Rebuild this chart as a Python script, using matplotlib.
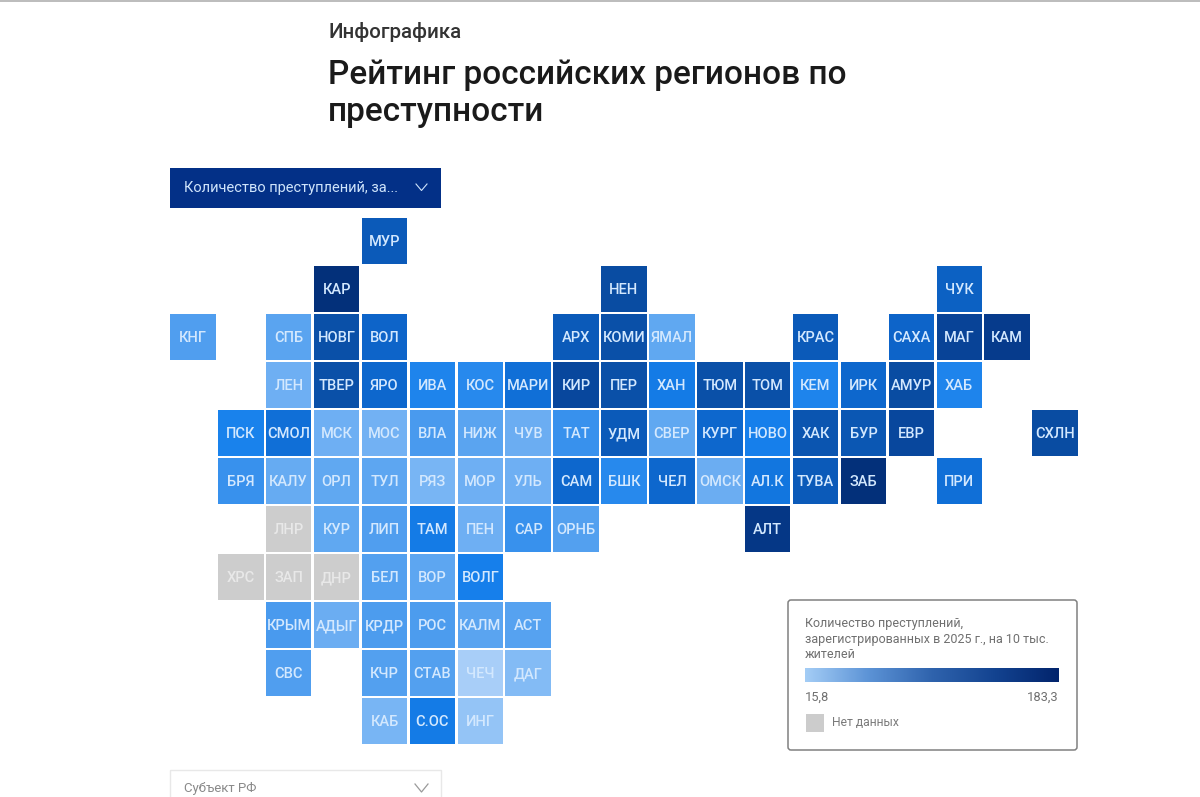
import numpy as np
import matplotlib
matplotlib.use('Agg')
import matplotlib.pyplot as plt
from matplotlib.colors import LinearSegmentedColormap, Normalize
from matplotlib.patches import Rectangle, FancyBboxPatch

plt.rcParams['font.family'] = ['Roboto', 'DejaVu Sans']

nan = float('nan')

# tile map, one list per row, '' = empty tile
row_labels = [
    ['', '', '', '', 'МУР'],
    ['', '', '', 'КАР', '', '', '', '', '', 'НЕН', '', '', '', '', '', '', 'ЧУК'],
    ['КНГ', '', 'СПБ', 'НОВГ', 'ВОЛ', '', '', '', 'АРХ', 'КОМИ', 'ЯМАЛ', '', '', 'КРАС', '', 'САХА', 'МАГ', 'КАМ'],
    ['', '', 'ЛЕН', 'ТВЕР', 'ЯРО', 'ИВА', 'КОС', 'МАРИ', 'КИР', 'ПЕР', 'ХАН', 'ТЮМ', 'ТОМ', 'КЕМ', 'ИРК', 'АМУР', 'ХАБ'],
    ['', 'ПСК', 'СМОЛ', 'МСК', 'МОС', 'ВЛА', 'НИЖ', 'ЧУВ', 'ТАТ', 'УДМ', 'СВЕР', 'КУРГ', 'НОВО', 'ХАК', 'БУР', 'ЕВР', '', '', 'СХЛН'],
    ['', 'БРЯ', 'КАЛУ', 'ОРЛ', 'ТУЛ', 'РЯЗ', 'МОР', 'УЛЬ', 'САМ', 'БШК', 'ЧЕЛ', 'ОМСК', 'АЛ.К', 'ТУВА', 'ЗАБ', '', 'ПРИ'],
    ['', '', 'ЛНР', 'КУР', 'ЛИП', 'ТАМ', 'ПЕН', 'САР', 'ОРНБ', '', '', '', 'АЛТ'],
    ['', 'ХРС', 'ЗАП', 'ДНР', 'БЕЛ', 'ВОР', 'ВОЛГ'],
    ['', '', 'КРЫМ', 'АДЫГ', 'КРДР', 'РОС', 'КАЛМ', 'АСТ'],
    ['', '', 'СВС', '', 'КЧР', 'СТАВ', 'ЧЕЧ', 'ДАГ'],
    ['', '', '', '', 'КАБ', 'С.ОС', 'ИНГ'],
]
# crimes per 10k, estimated from tile colour, nan = no data
row_values = [
    [0, 0, 0, 0, 125],
    [0, 0, 0, 175, 0, 0, 0, 0, 0, 140, 0, 0, 0, 0, 0, 0, 118],
    [68, 0, 62, 135, 115, 0, 0, 0, 125, 135, 58, 0, 0, 125, 0, 115, 150, 160],
    [0, 0, 50, 135, 112, 88, 85, 105, 145, 135, 95, 135, 135, 88, 112, 140, 88],
    [0, 90, 105, 50, 48, 72, 62, 52, 78, 125, 58, 112, 92, 130, 128, 145, 0, 0, 140],
    [0, 78, 55, 58, 60, 45, 50, 50, 112, 85, 112, 52, 100, 125, 175, 0, 105],
    [0, 0, nan, 58, 68, 95, 50, 78, 66, 0, 0, 0, 165],
    [0, nan, nan, nan, 66, 60, 92],
    [0, 0, 72, 52, 70, 70, 62, 64],
    [0, 0, 68, 0, 66, 66, 22, 40],
    [0, 0, 0, 0, 45, 95, 32],
]

val_min = 15.8
val_max = 183.3
legend_title = 'Количество преступлений,\nзарегистрированных в 2025 г., на 10 тыс.\nжителей'

tile_cmap = LinearSegmentedColormap.from_list('tiles', [
    (0.0, '#b4d5f9'), (0.2, '#6fb0f3'), (0.33, '#4a9bee'), (0.45, '#1680ec'),
    (0.58, '#0d66cc'), (0.72, '#0a4fa6'), (0.86, '#063b8d'), (1.0, '#022a70')])
legend_cmap = LinearSegmentedColormap.from_list('legend', ['#a4cdf6', '#5c93d6', '#2f63ad', '#134390', '#02246c'])
norm = Normalize(val_min, val_max)

fig = plt.figure(figsize=(12, 7.97), dpi=100, facecolor='white')

# pixel overlay for the page furniture
page = fig.add_axes([0, 0, 1, 1])
page.set_xlim(0, 1200)
page.set_ylim(797, 0)
page.axis('off')

page.add_patch(Rectangle((0, 0), 1200, 2, fc='#bdbdbd', ec='none'))
page.text(328, 32, 'Инфографика', fontsize=14.8, fontweight='medium', color='#333333', va='center')
page.text(328, 75, 'Рейтинг российских регионов по', fontsize=24, fontweight='medium', color='#1a1a1a', va='center')
page.text(328, 112, 'преступности', fontsize=24, fontweight='medium', color='#1a1a1a', va='center')

# top dropdown
page.add_patch(Rectangle((170, 168), 271, 40, fc='#033087', ec='none'))
page.text(184, 188, 'Количество преступлений, за...', fontsize=10.5, color='#cfe4fb', va='center')
page.plot([416, 421.5, 427], [184, 190.5, 184], color='#cfe4fb', lw=0.8)

# bottom dropdown
page.add_patch(Rectangle((170, 770), 271, 40, fc='white', ec='#e8e8e8', lw=1))
page.text(184, 788, 'Субъект РФ', fontsize=9.5, color='#8a8a8a', va='center')
page.plot([415, 421.5, 428], [784, 792, 784], color='#9a9a9a', lw=0.9)

# legend card
page.add_patch(FancyBboxPatch((788, 600), 289, 150, boxstyle='round,pad=0,rounding_size=3',
                              fc='white', ec='#808080', lw=1.1))
page.text(805, 639, legend_title, fontsize=9, color='#6f6f6f', va='center', linespacing=1.3)
page.text(805, 697, '15,8', fontsize=9.3, color='#6f6f6f', va='center')
page.text(1058, 697, '183,3', fontsize=9.3, color='#6f6f6f', va='center', ha='right')
page.add_patch(Rectangle((806, 714), 18, 18, fc='#cccccc', ec='none'))
page.text(832, 723, 'Нет данных', fontsize=8.7, color='#7a7a7a', va='center')

bar = fig.add_axes([805 / 1200, 1 - 682 / 797, 253 / 1200, 14 / 797])
bar.imshow(np.linspace(0, 1, 256)[None, :], cmap=legend_cmap, aspect='auto')
bar.axis('off')

# tile map
ax = fig.add_axes([169 / 1200, 1 - 745 / 797, 910 / 1200, 528 / 797])
ax.set_xlim(-0.5, 18.5)
ax.set_ylim(10.5, -0.5)
ax.axis('off')
ax.patch.set_alpha(0)

size = 0.95
for r, labels in enumerate(row_labels):
    for c, label in enumerate(labels):
        if not label:
            continue
        value = row_values[r][c]
        color = '#cdcdcd' if np.isnan(value) else tile_cmap(norm(value))
        ax.add_patch(Rectangle((c - size / 2, r - size / 2), size, size, fc=color, ec='none'))
        txt_color = '#e8e8e8' if np.isnan(value) else '#d3e8fe'
        ax.text(c, r + 0.02, label, ha='center', va='center', fontsize=10.5, fontweight='medium',
                color=txt_color, clip_on=False)

fig.savefig('out.png', dpi=100)
